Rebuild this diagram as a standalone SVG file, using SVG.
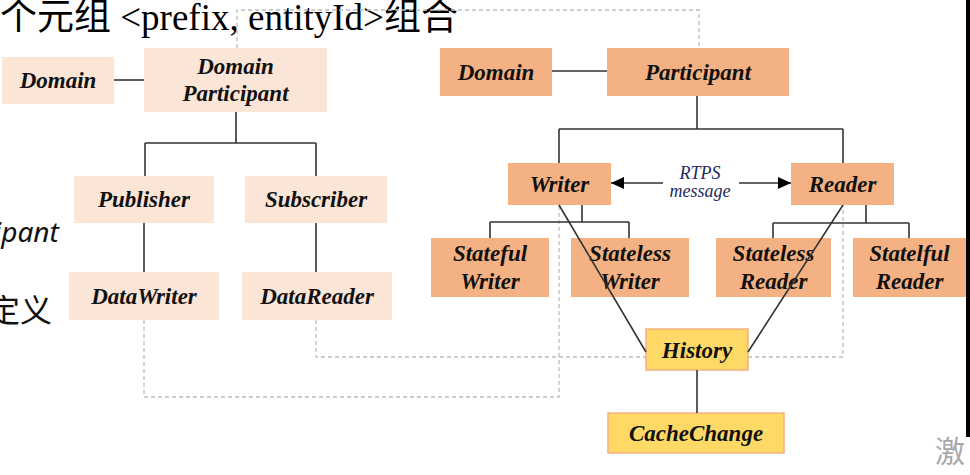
<svg xmlns="http://www.w3.org/2000/svg" width="970" height="475" viewBox="0 0 970 475">
<style>
.bg{fill:#ffffff}
.lt{fill:#fbe5d6}
.dk{fill:#f4b183}
.yl{fill:#ffd966;stroke:#f4b183;stroke-width:1.5}
.lbl{font-family:"Liberation Serif",serif;font-weight:bold;font-style:italic;font-size:23px;fill:#111;text-anchor:middle}
.msg{font-family:"Liberation Serif",serif;font-style:italic;font-size:18px;fill:#1c2b5e;text-anchor:middle}
.ln{fill:none;stroke:#333;stroke-width:1.6}
.dash{fill:none;stroke:#bdbdbd;stroke-width:1.3;stroke-dasharray:4 3}
.ctx{font-family:"Liberation Serif","Noto Sans CJK SC",serif;font-size:37px;fill:#000}
</style>
<defs>
<marker id="arr" markerUnits="userSpaceOnUse" markerWidth="13" markerHeight="12" refX="13" refY="6" orient="auto">
<path d="M0,0 L13,6 L0,12 z" fill="#000"/>
</marker>
</defs>
<rect class="bg" x="0" y="0" width="970" height="475"/>
<g id="context">
<text class="ctx" x="0" y="30">个元组 &lt;prefix, entityId&gt;组合</text>
<text x="-6" y="242" font-family="Noto Sans, sans-serif" font-style="italic" font-size="28" fill="#111">ipant</text>
<text x="-12" y="322" font-family="Noto Sans CJK SC, sans-serif" font-size="32" fill="#111">定义</text>
<text x="935" y="462" font-family="Noto Sans CJK SC, sans-serif" font-size="30" fill="#a8a8a8">激</text>
<rect x="966" y="0" width="4" height="437" fill="#000"/>
</g>
<g id="connectors-dashed">
<path class="dash" d="M237,48 V10 H699 V48"/>
<path class="dash" d="M144,320 V397 H559 V205"/>
<path class="dash" d="M316,320 V357 H843 V205"/>
</g>
<g id="n-domain-l"><rect class="lt" x="2" y="57" width="112" height="47"/><text class="lbl" x="58" y="88">Domain</text></g>
<g id="n-domain-participant"><rect class="lt" x="144" y="48" width="183" height="64"/><text class="lbl" x="235.5" y="74">Domain</text><text class="lbl" x="235.5" y="101">Participant</text></g>
<g id="n-publisher"><rect class="lt" x="74" y="176" width="140" height="47"/><text class="lbl" x="144" y="207">Publisher</text></g>
<g id="n-subscriber"><rect class="lt" x="245" y="176" width="142" height="47"/><text class="lbl" x="316" y="207">Subscriber</text></g>
<g id="n-datawriter"><rect class="lt" x="69" y="272" width="150" height="48"/><text class="lbl" x="144" y="304">DataWriter</text></g>
<g id="n-datareader"><rect class="lt" x="242" y="272" width="150" height="48"/><text class="lbl" x="317" y="304">DataReader</text></g>
<g id="n-domain-r"><rect class="dk" x="440" y="48" width="112" height="48"/><text class="lbl" x="496" y="80">Domain</text></g>
<g id="n-participant"><rect class="dk" x="607" y="48" width="182" height="48"/><text class="lbl" x="698" y="80">Participant</text></g>
<g id="n-writer"><rect class="dk" x="508" y="163" width="103" height="42"/><text class="lbl" x="559.5" y="192">Writer</text></g>
<g id="n-reader"><rect class="dk" x="791" y="163" width="103" height="42"/><text class="lbl" x="842.5" y="192">Reader</text></g>
<g id="n-stateful-writer"><rect class="dk" x="431" y="238" width="118" height="59"/><text class="lbl" x="490" y="261">Stateful</text><text class="lbl" x="490" y="289">Writer</text></g>
<g id="n-stateless-writer"><rect class="dk" x="571" y="238" width="118" height="59"/><text class="lbl" x="630" y="261">Stateless</text><text class="lbl" x="630" y="289">Writer</text></g>
<g id="n-stateless-reader"><rect class="dk" x="716" y="238" width="115" height="59"/><text class="lbl" x="773.5" y="261">Stateless</text><text class="lbl" x="773.5" y="289">Reader</text></g>
<g id="n-statelful-reader"><rect class="dk" x="853" y="238" width="113" height="59"/><text class="lbl" x="909.5" y="261">Statelful</text><text class="lbl" x="909.5" y="289">Reader</text></g>
<g id="n-history"><rect class="yl" x="646" y="329" width="102" height="41"/><text class="lbl" x="697" y="358">History</text></g>
<g id="n-cachechange"><rect class="yl" x="608" y="413" width="176" height="40"/><text class="lbl" x="696" y="441">CacheChange</text></g>
<g id="connectors">
<path class="ln" d="M114,80 H144"/>
<path class="ln" d="M236,112 V143 M145,143 H316 M145,143 V176 M316,143 V176"/>
<path class="ln" d="M144,223 V272 M316,223 V272"/>
<path class="ln" d="M552,71 H607"/>
<path class="ln" d="M697,96 V129 M559,129 H843 M559,129 V163 M843,129 V163"/>
<path class="ln" d="M582,205 V222" stroke-width="3"/>
<path class="ln" d="M490,222 H629 M490,222 V238 M629,222 V238"/>
<path class="ln" d="M866,205 V223" stroke-width="2.4"/>
<path class="ln" d="M773,223 H909 M773,223 V238 M909,223 V238"/>
<path class="ln" d="M559,205 L646,352 M843,205 L748,352"/>
<path class="ln" d="M697,370 V413"/>
<path class="ln" d="M663,183 H611" marker-end="url(#arr)"/>
<path class="ln" d="M739,183 H791" marker-end="url(#arr)"/>
<text class="msg" x="700" y="179">RTPS</text>
<text class="msg" x="700" y="197">message</text>
</g>
</svg>
